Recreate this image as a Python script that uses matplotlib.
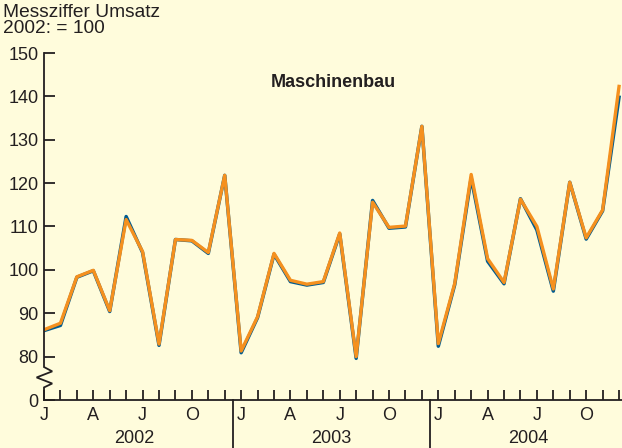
import numpy as np
import matplotlib.pyplot as plt

plt.rcParams['font.family'] = ['Liberation Sans', 'DejaVu Sans']

# Messziffer Umsatz Maschinenbau, Jan 2002 - Dez 2004
years = ["2002", "2003", "2004"]
month_letters = ["J", "A", "J", "O"]
orange_vals = [86.2, 87.7, 98.4, 99.9, 90.6, 111.6, 104.2, 82.9, 107.0, 106.8, 104.0, 121.8,
               81.3, 89.2, 103.8, 97.6, 96.7, 97.3, 108.5, 80.0, 115.6, 109.8, 110.1, 133.1,
               83.0, 96.9, 122.0, 102.6, 97.1, 116.3, 110.0, 95.6, 120.2, 107.4, 113.8, 142.3]
blue_vals = [86.0, 87.2, 98.3, 99.8, 90.4, 112.3, 104.0, 82.6, 107.0, 106.7, 103.8, 121.8,
             80.9, 89.0, 103.6, 97.3, 96.5, 97.1, 108.3, 79.6, 116.0, 109.6, 109.9, 133.1,
             82.4, 96.6, 121.2, 102.0, 96.8, 116.4, 109.2, 95.1, 120.2, 107.1, 113.6, 139.8]
yticks = [80, 90, 100, 110, 120, 130, 140, 150]

bg = "#fffcdc"
orange = "#f5901e"
blue = "#005b8f"
ink = "#231f20"

fig = plt.figure(figsize=(6.22, 4.48), dpi=100, facecolor=bg)
ax = fig.add_axes([44 / 622, 48 / 448, 578 / 622, 347 / 448], facecolor=bg)

x = np.arange(len(orange_vals))
ax.plot(x, blue_vals, color=blue, lw=2.5)
ax.plot(x, orange_vals, color=orange, lw=2.4)

ax.set_xlim(0, 35.18)
ax.set_ylim(70, 150)

for s in ["top", "right", "left"]:
    ax.spines[s].set_visible(False)
ax.spines["bottom"].set_color(ink)
ax.spines["bottom"].set_linewidth(1.3)

# y axis with break
brk_x = [0, 0, 0.5, -0.45, 0.5, 0, 0]
brk_y = [150, 77.6, 76.6, 75.2, 73.8, 72.9, 70]
ax.plot(brk_x, brk_y, color=ink, lw=1.3, clip_on=False, solid_joinstyle="miter")

ax.set_yticks([70] + yticks)
ax.set_yticklabels(["0"] + [str(v) for v in yticks])
ax.tick_params(axis="y", direction="in", length=8, width=1.3, color=ink,
               labelsize=13, labelcolor=ink, pad=4)

ax.set_xticks(x)
ax.set_xticklabels([])
ax.tick_params(axis="x", direction="in", length=7, width=1.3, color=ink)

for i, yr in enumerate(years):
    for j, lab in enumerate(month_letters):
        ax.text(i * 12 + j * 3, -0.045, lab, transform=ax.get_xaxis_transform(),
                ha="center", va="center", fontsize=13, color=ink)
    ax.text(i * 12 + 5.5, -0.11, yr, transform=ax.get_xaxis_transform(),
            ha="center", va="center", fontsize=13, color=ink)
    if i > 0:
        ax.plot([i * 12 - 0.5] * 2, [0, -0.14], transform=ax.get_xaxis_transform(),
                color=ink, lw=1.3, clip_on=False)

ax.text(0.5, 0.915, "Maschinenbau", transform=ax.transAxes, ha="center", va="center",
        fontsize=13, fontweight="bold", color=ink)
fig.text(0.005, 0.99, "Messziffer Umsatz\n2002: = 100", ha="left", va="top",
         fontsize=13.8, color=ink, linespacing=0.92)

fig.savefig("out.png", dpi=100, facecolor=bg)
